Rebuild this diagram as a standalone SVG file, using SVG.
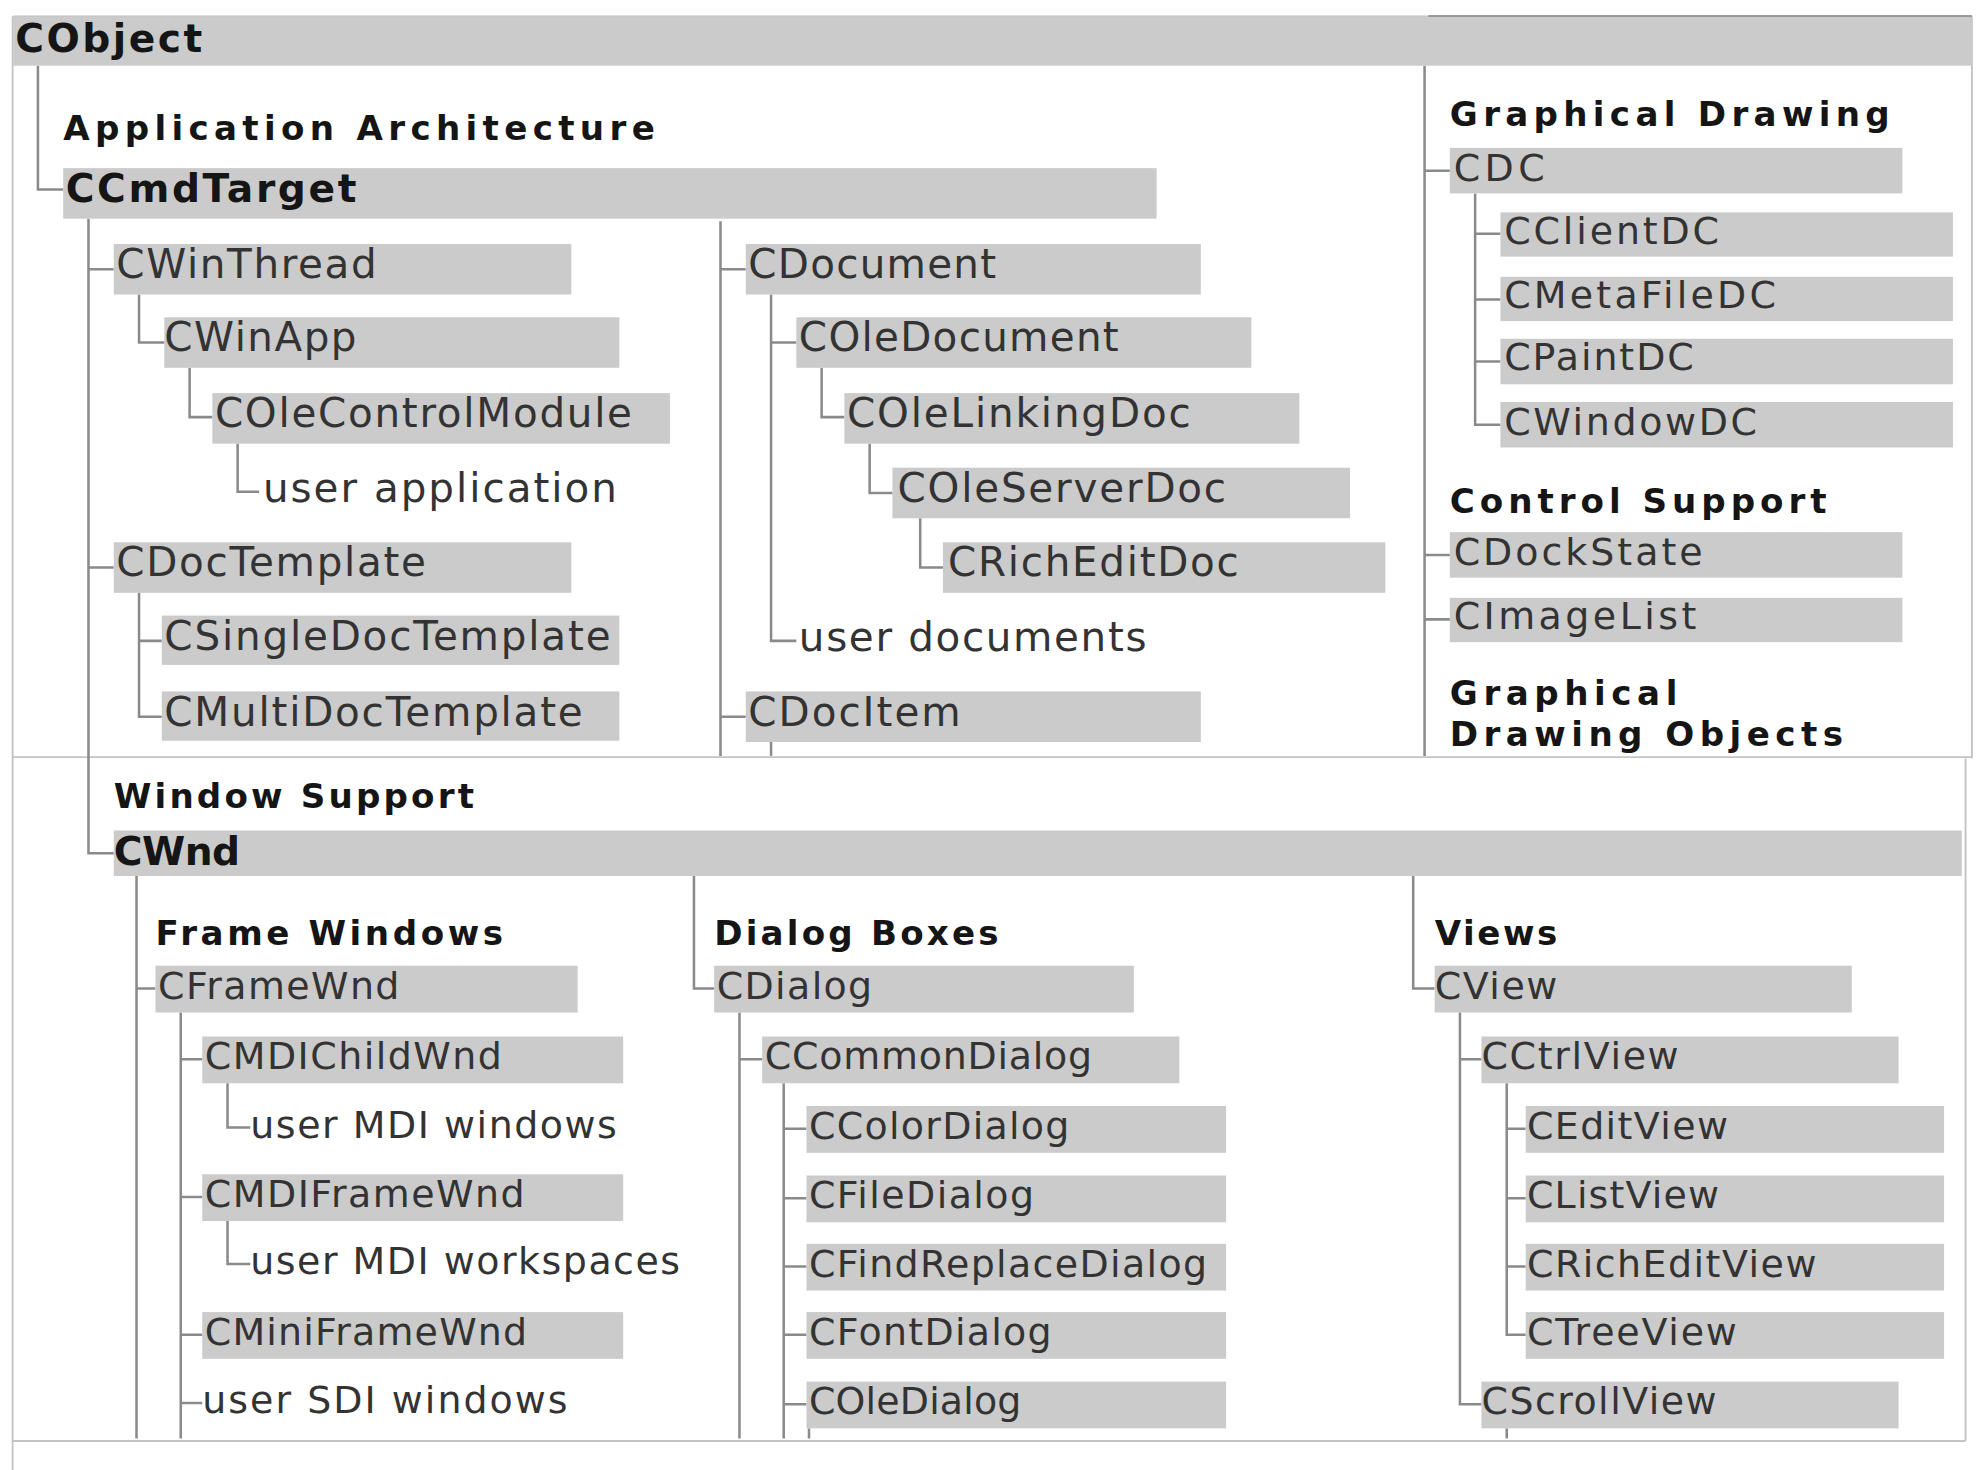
<svg xmlns="http://www.w3.org/2000/svg" width="1982" height="1470" viewBox="0 0 1982 1470">
<style>
.bar{fill:#cbcbcb}
.ln{stroke:#8a8a8a;stroke-width:2;fill:none}
.fr{stroke:#c4c4c4;stroke-width:1.5;fill:none}
text{font-family:"DejaVu Sans",Verdana,sans-serif}
.t{font-size:32px;fill:#333}
.s{font-size:30px;fill:#333}
.h{font-size:27px;font-weight:bold;fill:#151515}
.b{font-size:31px;font-weight:bold;fill:#151515}
</style>
<rect width="1982" height="1470" fill="#fff"/>
<g transform="scale(1.26403)">
<g id="frame">
<path class="fr" d="M10 13H1560M10 13V1163M1560 13V600M10 599H1560M1555 600V1140M10 1140H1555"/>
<path d="M1130 13H1560" stroke="#555" stroke-width="1.5"/>
</g>
<g id="connectors">
<path class="ln" d="M30 52V150H50"/>
<path class="ln" d="M70 173V675H90M70 213H90M70 449H90"/>
<path class="ln" d="M110 233V271H130"/>
<path class="ln" d="M150 291V330H168"/>
<path class="ln" d="M188 351V389H205"/>
<path class="ln" d="M110 469V567H128M110 507H128"/>
<path class="ln" d="M570 175V598M570 213H590M570 567H590"/>
<path class="ln" d="M610 233V507H630M610 271H630"/>
<path class="ln" d="M650 291V330H668"/>
<path class="ln" d="M688 351V390H706"/>
<path class="ln" d="M728 410V449H746"/>
<path class="ln" d="M610 587V598"/>
<path class="ln" d="M1127 52V598M1127 135H1147M1127 439H1147M1127 490H1147"/>
<path class="ln" d="M1167 153V336H1187M1167 185H1187M1167 237H1187M1167 286H1187"/>
<path class="ln" d="M108 693V1138M108 782H123"/>
<path class="ln" d="M143 801V1138M143 838H160M143 947H160M143 1056H160M143 1110H160"/>
<path class="ln" d="M180 857V892H198M180 966V1000H198"/>
<path class="ln" d="M549 693V782H565"/>
<path class="ln" d="M585 801V1138M585 838H603"/>
<path class="ln" d="M620 857V1138M620 893H638M620 948H638M620 1002H638M620 1056H638M620 1111H638"/>
<path class="ln" d="M640 1130V1138"/>
<path class="ln" d="M1118 693V782H1135"/>
<path class="ln" d="M1155 801V1111H1172M1155 838H1172"/>
<path class="ln" d="M1192 857V1056H1207M1192 893H1207M1192 948H1207M1192 1002H1207"/>
<path class="ln" d="M1192 1130V1138"/>
</g>
<g id="headings">
<text class="h" x="50" y="111" textLength="468" lengthAdjust="spacing">Application Architecture</text>
<text class="h" x="1147" y="100" textLength="348" lengthAdjust="spacing">Graphical Drawing</text>
<text class="h" x="1147" y="406" textLength="298" lengthAdjust="spacing">Control Support</text>
<text class="h" x="1147" y="558" textLength="180" lengthAdjust="spacing">Graphical</text>
<text class="h" x="1147" y="590" textLength="311" lengthAdjust="spacing">Drawing Objects</text>
<text class="h" x="90" y="639" textLength="285" lengthAdjust="spacing">Window Support</text>
<text class="h" x="123" y="748" textLength="275" lengthAdjust="spacing">Frame Windows</text>
<text class="h" x="565" y="748" textLength="225" lengthAdjust="spacing">Dialog Boxes</text>
<text class="h" x="1135" y="748" textLength="97" lengthAdjust="spacing">Views</text>
</g>
<g id="CObject"><rect class="bar" x="10" y="13" width="1550" height="39"/><text class="b" x="12" y="41" textLength="148" lengthAdjust="spacing">CObject</text></g>
<g id="CCmdTarget"><rect class="bar" x="50" y="133" width="865" height="40"/><text class="b" x="52" y="160" textLength="230" lengthAdjust="spacing">CCmdTarget</text></g>
<g id="CWinThread"><rect class="bar" x="90" y="193" width="362" height="40"/><text class="t" x="92" y="220" textLength="206" lengthAdjust="spacing">CWinThread</text></g>
<g id="CWinApp"><rect class="bar" x="130" y="251" width="360" height="40"/><text class="t" x="130" y="278" textLength="152" lengthAdjust="spacing">CWinApp</text></g>
<g id="COleControlModule"><rect class="bar" x="168" y="311" width="362" height="40"/><text class="t" x="170" y="338" textLength="330" lengthAdjust="spacing">COleControlModule</text></g>
<g id="user-application"><text class="t" x="208" y="397" textLength="280" lengthAdjust="spacing">user application</text></g>
<g id="CDocTemplate"><rect class="bar" x="90" y="429" width="362" height="40"/><text class="t" x="92" y="456" textLength="245" lengthAdjust="spacing">CDocTemplate</text></g>
<g id="CSingleDocTemplate"><rect class="bar" x="128" y="487" width="362" height="39"/><text class="t" x="130" y="514" textLength="353" lengthAdjust="spacing">CSingleDocTemplate</text></g>
<g id="CMultiDocTemplate"><rect class="bar" x="128" y="547" width="362" height="39"/><text class="t" x="130" y="574" textLength="331" lengthAdjust="spacing">CMultiDocTemplate</text></g>
<g id="CDocument"><rect class="bar" x="590" y="193" width="360" height="40"/><text class="t" x="592" y="220" textLength="196" lengthAdjust="spacing">CDocument</text></g>
<g id="COleDocument"><rect class="bar" x="630" y="251" width="360" height="40"/><text class="t" x="632" y="278" textLength="253" lengthAdjust="spacing">COleDocument</text></g>
<g id="COleLinkingDoc"><rect class="bar" x="668" y="311" width="360" height="40"/><text class="t" x="670" y="338" textLength="272" lengthAdjust="spacing">COleLinkingDoc</text></g>
<g id="COleServerDoc"><rect class="bar" x="706" y="370" width="362" height="40"/><text class="t" x="710" y="397" textLength="260" lengthAdjust="spacing">COleServerDoc</text></g>
<g id="CRichEditDoc"><rect class="bar" x="746" y="429" width="350" height="40"/><text class="t" x="750" y="456" textLength="230" lengthAdjust="spacing">CRichEditDoc</text></g>
<g id="user-documents"><text class="t" x="632" y="515" textLength="275" lengthAdjust="spacing">user documents</text></g>
<g id="CDocItem"><rect class="bar" x="590" y="547" width="360" height="40"/><text class="t" x="592" y="574" textLength="168" lengthAdjust="spacing">CDocItem</text></g>
<g id="CDC"><rect class="bar" x="1147" y="117" width="358" height="36"/><text class="s" x="1150" y="143" textLength="72" lengthAdjust="spacing">CDC</text></g>
<g id="CClientDC"><rect class="bar" x="1187" y="168" width="358" height="35"/><text class="s" x="1190" y="193" textLength="170" lengthAdjust="spacing">CClientDC</text></g>
<g id="CMetaFileDC"><rect class="bar" x="1187" y="219" width="358" height="35"/><text class="s" x="1190" y="244" textLength="215" lengthAdjust="spacing">CMetaFileDC</text></g>
<g id="CPaintDC"><rect class="bar" x="1187" y="268" width="358" height="36"/><text class="s" x="1190" y="293" textLength="150" lengthAdjust="spacing">CPaintDC</text></g>
<g id="CWindowDC"><rect class="bar" x="1187" y="318" width="358" height="36"/><text class="s" x="1190" y="344" textLength="200" lengthAdjust="spacing">CWindowDC</text></g>
<g id="CDockState"><rect class="bar" x="1147" y="421" width="358" height="36"/><text class="s" x="1150" y="447" textLength="197" lengthAdjust="spacing">CDockState</text></g>
<g id="CImageList"><rect class="bar" x="1147" y="473" width="358" height="35"/><text class="s" x="1150" y="498" textLength="192" lengthAdjust="spacing">CImageList</text></g>
<g id="CWnd"><rect class="bar" x="90" y="657" width="1462" height="36"/><text class="b" x="90" y="684" textLength="100" lengthAdjust="spacing">CWnd</text></g>
<g id="CFrameWnd"><rect class="bar" x="123" y="764" width="334" height="37"/><text class="s" x="125" y="790" textLength="191" lengthAdjust="spacing">CFrameWnd</text></g>
<g id="CMDIChildWnd"><rect class="bar" x="160" y="820" width="333" height="37"/><text class="s" x="162" y="846" textLength="235" lengthAdjust="spacing">CMDIChildWnd</text></g>
<g id="user-MDI-windows"><text class="s" x="198" y="900" textLength="290" lengthAdjust="spacing">user MDI windows</text></g>
<g id="CMDIFrameWnd"><rect class="bar" x="160" y="929" width="333" height="37"/><text class="s" x="162" y="955" textLength="253" lengthAdjust="spacing">CMDIFrameWnd</text></g>
<g id="user-MDI-workspaces"><text class="s" x="198" y="1008" textLength="340" lengthAdjust="spacing">user MDI workspaces</text></g>
<g id="CMiniFrameWnd"><rect class="bar" x="160" y="1038" width="333" height="37"/><text class="s" x="162" y="1064" textLength="255" lengthAdjust="spacing">CMiniFrameWnd</text></g>
<g id="user-SDI-windows"><text class="s" x="160" y="1118" textLength="289" lengthAdjust="spacing">user SDI windows</text></g>
<g id="CDialog"><rect class="bar" x="565" y="764" width="332" height="37"/><text class="s" x="567" y="790" textLength="123" lengthAdjust="spacing">CDialog</text></g>
<g id="CCommonDialog"><rect class="bar" x="603" y="820" width="330" height="37"/><text class="s" x="605" y="846" textLength="259" lengthAdjust="spacing">CCommonDialog</text></g>
<g id="CColorDialog"><rect class="bar" x="638" y="875" width="332" height="37"/><text class="s" x="640" y="901" textLength="206" lengthAdjust="spacing">CColorDialog</text></g>
<g id="CFileDialog"><rect class="bar" x="638" y="930" width="332" height="37"/><text class="s" x="640" y="956" textLength="178" lengthAdjust="spacing">CFileDialog</text></g>
<g id="CFindReplaceDialog"><rect class="bar" x="638" y="984" width="332" height="37"/><text class="s" x="640" y="1010" textLength="315" lengthAdjust="spacing">CFindReplaceDialog</text></g>
<g id="CFontDialog"><rect class="bar" x="638" y="1038" width="332" height="37"/><text class="s" x="640" y="1064" textLength="192" lengthAdjust="spacing">CFontDialog</text></g>
<g id="COleDialog"><rect class="bar" x="638" y="1093" width="332" height="37"/><text class="s" x="640" y="1119" textLength="168" lengthAdjust="spacing">COleDialog</text></g>
<g id="CView"><rect class="bar" x="1135" y="764" width="330" height="37"/><text class="s" x="1135" y="790" textLength="97" lengthAdjust="spacing">CView</text></g>
<g id="CCtrlView"><rect class="bar" x="1172" y="820" width="330" height="37"/><text class="s" x="1172" y="846" textLength="156" lengthAdjust="spacing">CCtrlView</text></g>
<g id="CEditView"><rect class="bar" x="1207" y="875" width="331" height="37"/><text class="s" x="1208" y="901" textLength="159" lengthAdjust="spacing">CEditView</text></g>
<g id="CListView"><rect class="bar" x="1207" y="930" width="331" height="37"/><text class="s" x="1208" y="956" textLength="152" lengthAdjust="spacing">CListView</text></g>
<g id="CRichEditView"><rect class="bar" x="1207" y="984" width="331" height="37"/><text class="s" x="1208" y="1010" textLength="229" lengthAdjust="spacing">CRichEditView</text></g>
<g id="CTreeView"><rect class="bar" x="1207" y="1038" width="331" height="37"/><text class="s" x="1208" y="1064" textLength="166" lengthAdjust="spacing">CTreeView</text></g>
<g id="CScrollView"><rect class="bar" x="1172" y="1093" width="330" height="37"/><text class="s" x="1172" y="1119" textLength="186" lengthAdjust="spacing">CScrollView</text></g>
</g>
</svg>
